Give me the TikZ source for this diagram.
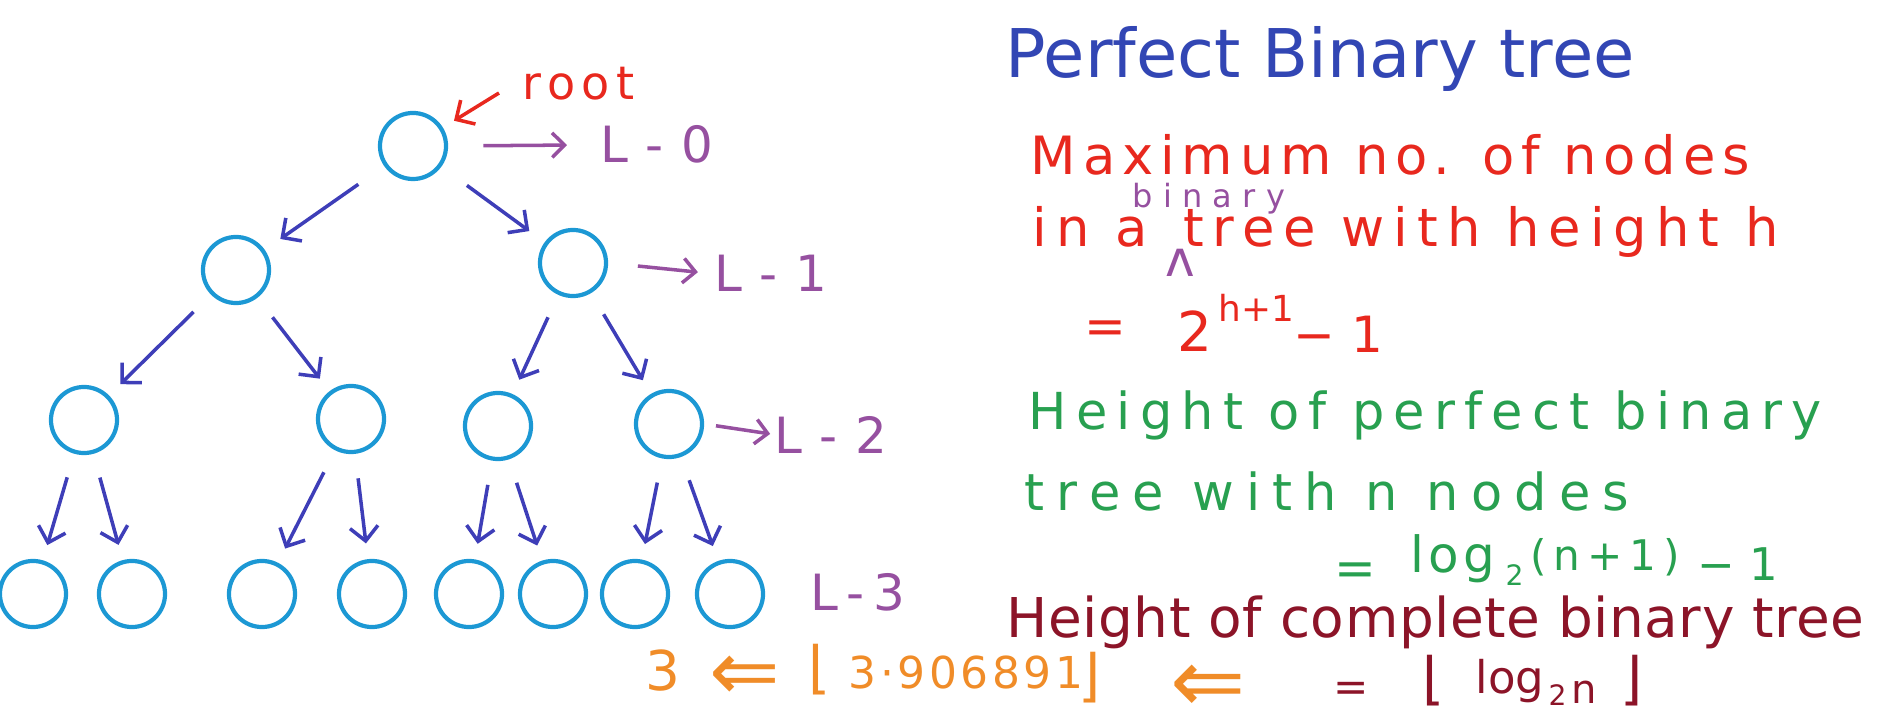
\documentclass[tikz,border=0pt]{standalone}
\usepackage{fontspec}
\setmainfont{DejaVu Sans}
\usepackage{tikz}
\usetikzlibrary{
    arrows.meta
}
\definecolor{treeblue}{RGB}{28,152,212}
\definecolor{edgeblue}{RGB}{62,62,184}
\definecolor{lvlpurple}{RGB}{150,80,160}
\definecolor{penred}{RGB}{232,40,30}
\definecolor{penblue}{RGB}{50,70,180}
\definecolor{pengreen}{RGB}{40,160,80}
\definecolor{penmaroon}{RGB}{140,20,40}
\definecolor{penorange}{RGB}{240,140,40}
\newcommand{\hand}[2]{\fontsize{#1}{#1}\selectfont\addfontfeatures{LetterSpace=#2}}
\tikzstyle{tnode} = [
    circle,
    draw=treeblue,
    line width=1.2pt,
    minimum size=0.66cm,
    inner sep=0pt
]
\tikzstyle{treearrow} = [
    -{Straight Barb[length=4pt,width=8pt]},
    line width=1pt,
    draw=edgeblue,
    shorten <=7pt,
    shorten >=4.5pt
]
\tikzstyle{lvlarrow} = [
    -{Straight Barb[length=3.5pt,width=7pt]},
    line width=1pt,
    draw=lvlpurple
]
\tikzstyle{txt} = [
    anchor=base west,
    inner sep=0pt
]

\begin{document}
\begin{tikzpicture}[x=0.01cm, y=-0.01cm]
    \useasboundingbox (0,0) rectangle (1880,713);

    % Level 0
    \node[tnode] (root) at (413,146) {};
    % Level 1
    \node[tnode] (a) at (236,270) {};
    \node[tnode] (b) at (573,263) {};
    % Level 2
    \node[tnode] (aa) at (84,420) {};
    \node[tnode] (ab) at (351,419) {};
    \node[tnode] (ba) at (498,426) {};
    \node[tnode] (bb) at (669,424) {};
    % Level 3
    \node[tnode] (aaa) at (33,594) {};
    \node[tnode] (aab) at (132,594) {};
    \node[tnode] (aba) at (262,594) {};
    \node[tnode] (abb) at (372,594) {};
    \node[tnode] (baa) at (469,594) {};
    \node[tnode] (bab) at (553,594) {};
    \node[tnode] (bba) at (635,594) {};
    \node[tnode] (bbb) at (730,594) {};

    % Tree arrows
    \draw[treearrow, shorten <=9pt, shorten >=5.4pt] (root) -- (a);
    \draw[treearrow, shorten <=9pt, shorten >=5.4pt] (root) -- (b);
    \draw[treearrow] (a) -- (aa);
    \draw[treearrow] (a) -- (ab);
    \draw[treearrow] (b) -- (ba);
    \draw[treearrow] (b) -- (bb);
    \draw[treearrow] (aa) -- (aaa);
    \draw[treearrow] (aa) -- (aab);
    \draw[treearrow] (ab) -- (aba);
    \draw[treearrow] (ab) -- (abb);
    \draw[treearrow] (ba) -- (baa);
    \draw[treearrow] (ba) -- (bab);
    \draw[treearrow] (bb) -- (bba);
    \draw[treearrow] (bb) -- (bbb);

    % root label
    \node[txt, text=penred, font=\hand{13.1pt}{14}] (rootlbl) at (522,100) {root};
    \coordinate (rootfrom) at (499,93);
    \draw[-{Straight Barb[length=4pt,width=8pt]}, line width=1pt, draw=penred, shorten >=3.7pt] (rootfrom) -- (root);

    % Level labels
    \node[txt, text=lvlpurple, font=\hand{14.2pt}{36}] (lv0) at (600,163) {L-0};
    \node[txt, text=lvlpurple, font=\hand{14.2pt}{36}] (lv1) at (714,292) {L-1};
    \node[txt, text=lvlpurple, font=\hand{14.2pt}{36}] (lv2) at (774,453) {L-2};
    \node[txt, text=lvlpurple, font=\hand{14.2pt}{18}] (lv3) at (810,610) {L-3};
    \draw[lvlarrow, shorten <=10pt, shorten >=9.4pt] (root.east) -- (lv0.west);
    \draw[lvlarrow, shorten <=8.5pt, shorten >=4.6pt] (b.east) -- (lv1.west);
    \draw[lvlarrow, shorten <=3.4pt, shorten >=1.1pt] (bb.east) -- (lv2.west);

    % Title
    \node[txt, text=penblue, font=\hand{19.1pt}{0}] (title) at (1005,78) {Perfect Binary tree};

    % Maximum number of nodes
    \node[txt, text=penred, font=\hand{15pt}{13}] (maxa) at (1030,175) {Maximum no. of nodes};
    \node[txt, text=lvlpurple, font=\hand{9.1pt}{32}] (ins) at (1132,208) {binary};
    \node[txt, text=penred, font=\hand{15pt}{17}] (maxb) at (1032,247) {in a\hspace{10pt}tree with height h};
    \node[txt, text=lvlpurple, font=\hand{14.2pt}{0}] (caret) at (1165,277) {ʌ};
    \node[txt, text=penred, font=\hand{14.2pt}{0}] (maxeq) at (1084,344) {=};
    \node[txt, text=penred, font=\hand{15.6pt}{0}] (maxtwo) at (1177,352) {2};
    \node[txt, text=penred, font=\hand{10.2pt}{0}] (maxexp) at (1218,322) {h+1};
    \node[txt, text=penred, font=\hand{14.2pt}{0}] (maxone) at (1293,353) {− 1};

    % Height of perfect binary tree
    \node[txt, text=pengreen, font=\hand{14.5pt}{18}] (pfa) at (1028,430) {Height of perfect binary};
    \node[txt, text=pengreen, font=\hand{14.5pt}{24}] (pfb) at (1024,510) {tree with n nodes};
    \node[txt, text=pengreen, font=\hand{14.2pt}{0}] (pfeq) at (1334,585) {=};
    \node[txt, text=pengreen, font=\hand{14.2pt}{8}] (pflog) at (1410,572) {log};
    \node[txt, text=pengreen, font=\hand{8pt}{0}] (pfsub) at (1505,585) {2};
    \node[txt, text=pengreen, font=\hand{12pt}{16}] (pfarg) at (1530,570) {(n+1)};
    \node[txt, text=pengreen, font=\hand{12.8pt}{0}] (pfone) at (1697,580) {− 1};

    % Height of complete binary tree
    \node[txt, text=penmaroon, font=\hand{15.6pt}{1}] (cpa) at (1006,637) {Height of complete binary tree};
    \node[txt, text=penmaroon, font=\hand{12pt}{0}] (cpeq) at (1333,701) {=};
    \node[txt, text=penmaroon, font=\hand{16.2pt}{0}] (cpfl) at (1422,698) {⌊};
    \node[txt, text=penmaroon, font=\hand{12.8pt}{0}] (cplog) at (1475,693) {log};
    \node[txt, text=penmaroon, font=\hand{8pt}{0}] (cpsub) at (1548,705) {2};
    \node[txt, text=penmaroon, font=\hand{11.4pt}{0}] (cpn) at (1571,703) {n};
    \node[txt, text=penmaroon, font=\hand{16.2pt}{0}] (cpfr) at (1620,698) {⌋};

    % Worked value
    \node[txt, text=penorange, font=\hand{15.6pt}{0}] (ex) at (645,690) {3};
    \node[txt, text=penorange, font=\hand{24pt}{0}, text depth=0pt] (exto) at (709,700) {⇐};
    \node[txt, text=penorange, font=\hand{16.2pt}{0}] (exfl) at (808,687) {⌊};
    \node[txt, text=penorange, font=\hand{12.5pt}{8}] (exval) at (848,688) {3·906891};
    \node[txt, text=penorange, font=\hand{16.2pt}{0}] (exfr) at (1078,695) {⌋};
    \node[txt, text=penorange, font=\hand{25.6pt}{0}, text depth=0pt] (exfrom) at (1170,712) {⇐};
\end{tikzpicture}
\end{document}
